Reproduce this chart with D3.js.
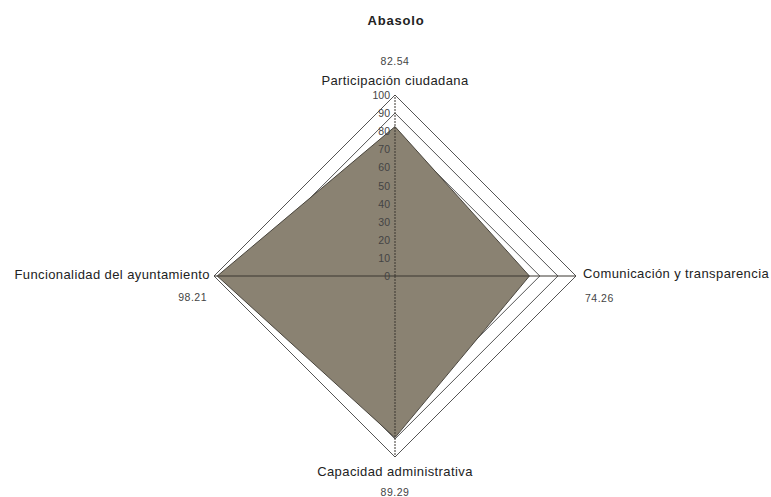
<!DOCTYPE html>
<html>
<head>
<meta charset="utf-8">
<script src="https://cdn.jsdelivr.net/npm/d3@7"></script>
<style>
  body { margin: 0; background: #fff; }
  text { font-family: "Liberation Sans", Arial, sans-serif; }
</style>
</head>
<body>
<svg width="771" height="497"></svg>
<script>
const title = 'Abasolo';
const categories = ['Participación ciudadana', 'Comunicación y transparencia', 'Capacidad administrativa', 'Funcionalidad del ayuntamiento'];
const values = [82.54, 74.26, 89.29, 98.21];
const ticks = [0, 10, 20, 30, 40, 50, 60, 70, 80, 90, 100];

const svg = d3.select('svg');
const cx = 395, cy = 276;
const radius = 181;

const r = d3.scaleLinear().domain([0, 100]).range([0, radius]);
// angle: 0 at top, clockwise
const angle = i => (i / categories.length) * 2 * Math.PI;
const pt = (i, v) => [cx + r(v) * Math.sin(angle(i)), cy - r(v) * Math.cos(angle(i))];

const g = svg.append('g');

// grid rings
const line = d3.line();
ticks.filter(t => t > 0).forEach(t => {
    g.append('path')
        .attr('d', line(categories.map((c, i) => pt(i, t))) + 'Z')
        .attr('fill', 'none')
        .attr('stroke', '#555')
        .attr('stroke-width', 1);
});

// data area
g.append('path')
    .attr('d', line(values.map((v, i) => pt(i, v))) + 'Z')
    .attr('fill', '#8a8272')
    .attr('stroke', '#4a463e')
    .attr('stroke-width', 1);

// axes
categories.forEach((c, i) => {
    const [x2, y2] = pt(i, 100);
    g.append('line')
        .attr('x1', cx).attr('y1', cy)
        .attr('x2', x2).attr('y2', y2)
        .attr('stroke', '#3a3630')
        .attr('stroke-width', 1)
        .attr('stroke-dasharray', i % 2 === 0 ? '2,1' : null);
});

// tick labels on vertical axis
g.selectAll('.tick').data(ticks).enter().append('text')
    .attr('x', cx - 5)
    .attr('y', d => cy - r(d) + 4)
    .attr('text-anchor', 'end')
    .attr('font-size', 10.5)
    .attr('fill', '#444')
    .text(d => d);

// title
svg.append('text')
    .attr('x', 396).attr('y', 25)
    .attr('text-anchor', 'middle')
    .attr('font-size', 13)
    .attr('font-weight', 'bold')
    .attr('letter-spacing', 0.8)
    .attr('fill', '#222')
    .text(title);

// category labels and values
const fmt = d3.format('.2f');
const lab = [
    {anchor: 'middle', dx: 0, dy: -10, vdx: 0, vdy: -30},
    {anchor: 'start', dx: 7, dy: 2, vdx: 9, vdy: 26},
    {anchor: 'middle', dx: 0, dy: 19, vdx: 0, vdy: 39},
    {anchor: 'end', dx: -4, dy: 3, vdx: -7, vdy: 25}
];
categories.forEach((c, i) => {
    const [x, y] = pt(i, 100);
    svg.append('text')
        .attr('x', x + lab[i].dx).attr('y', y + lab[i].dy)
        .attr('text-anchor', lab[i].anchor)
        .attr('font-size', 13)
        .attr('letter-spacing', 0.4)
        .attr('fill', '#222')
        .text(c);
    svg.append('text')
        .attr('x', x + lab[i].vdx).attr('y', y + lab[i].vdy)
        .attr('text-anchor', lab[i].anchor)
        .attr('font-size', 10.5)
        .attr('letter-spacing', 0.5)
        .attr('fill', '#444')
        .text(fmt(values[i]));
});
</script>
</body>
</html>
